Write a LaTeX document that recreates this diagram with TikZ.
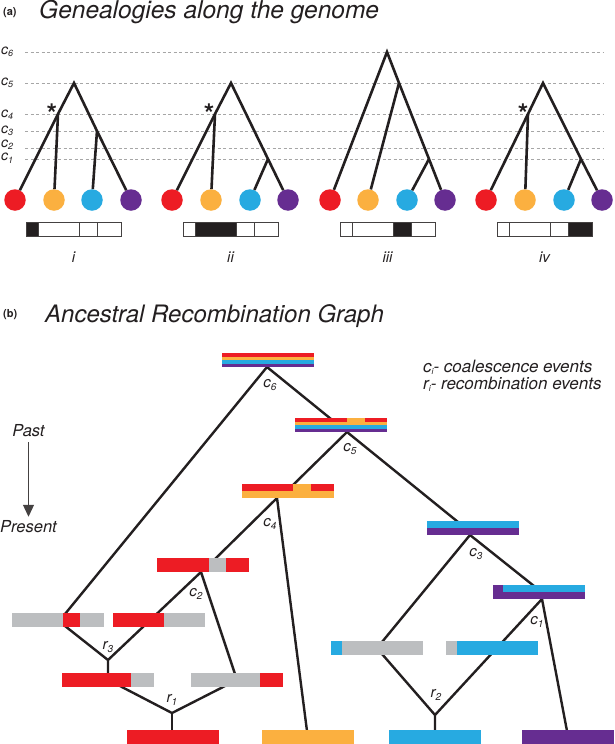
\documentclass[tikz,border=0pt]{standalone}
\usepackage{fontspec}
\setmainfont{TeX Gyre Heros}
\usetikzlibrary{arrows.meta}
\definecolor{cR}{HTML}{ED1C24}
\definecolor{cO}{HTML}{FBB040}
\definecolor{cB}{HTML}{27AAE1}
\definecolor{cP}{HTML}{662D91}
\definecolor{cG}{HTML}{BCBEC0}
\definecolor{ink}{HTML}{231F20}
\newcommand{\la}[2]{{\fontsize{14}{14}\selectfont\itshape #1}{\fontsize{9}{9}\selectfont\itshape\raisebox{-2.5pt}{#2}}}
\newcommand{\lb}[2]{{\fontsize{15}{15}\selectfont\itshape #1}{\fontsize{10}{10}\selectfont\itshape\raisebox{-3.5pt}{#2}}}
\begin{document}
\begin{tikzpicture}[x=1pt,y=-1pt,
  dashline/.style={draw=black!35, line width=0.7pt, dash pattern=on 3pt off 2.5pt},
  tree/.style={draw=ink, line width=2.6pt},
  leaf/.style={circle, minimum size=21.5pt, inner sep=0pt, draw=none},
  gbar/.style={draw=ink!85, line width=0.9pt},
  edge/.style={draw=ink, line width=2.4pt},
  txt/.style={inner sep=0pt, text=ink},
]
\fill[white] (0,0) rectangle (614,744);
\path[use as bounding box] (0,0) rectangle (614,744);

% ---------- (a) ----------
\node[txt, anchor=base west] (ta) at (3,16) {\fontsize{11}{11}\selectfont\bfseries (a)};
\node[txt, anchor=base west] (titlea) at (39,19) {\fontsize{24.5}{24.5}\selectfont\itshape Genealogies along the genome};

\foreach \y in {52,83,114,131,148,159} \draw[dashline] (25,\y) -- (603,\y);
\node[txt, anchor=base west] (lc6) at (1,54) {\la{c}{6}};
\node[txt, anchor=base west] (lc5) at (1,85) {\la{c}{5}};
\node[txt, anchor=base west] (lc4) at (1,117) {\la{c}{4}};
\node[txt, anchor=base west] (lc3) at (1,133) {\la{c}{3}};
\node[txt, anchor=base west] (lc2) at (1,147) {\la{c}{2}};
\node[txt, anchor=base west] (lc1) at (1,160.5) {\la{c}{1}};

% tree i
\node[leaf, fill=cR] (i1) at (15,200) {};
\node[leaf, fill=cO] (i2) at (54,200) {};
\node[leaf, fill=cB] (i3) at (92,200) {};
\node[leaf, fill=cP] (i4) at (131,200) {};
\coordinate (iR) at (74,83); \coordinate (iA) at (58,114); \coordinate (iB) at (97,131);
\draw[tree] (i1) -- (iA) -- (iR) -- (iB) -- (i4);
\draw[tree] (iA) -- (i2);
\draw[tree] (iB) -- (i3);
% tree ii
\node[leaf, fill=cR] (ii1) at (172,200) {};
\node[leaf, fill=cO] (ii2) at (211,200) {};
\node[leaf, fill=cB] (ii3) at (250,200) {};
\node[leaf, fill=cP] (ii4) at (288,200) {};
\coordinate (iiR) at (231,83); \coordinate (iiA) at (215,114); \coordinate (iiC) at (268,159);
\draw[tree] (ii1) -- (iiA) -- (iiR) -- (iiC) -- (ii4);
\draw[tree] (iiA) -- (ii2);
\draw[tree] (iiC) -- (ii3);
% tree iii
\node[leaf, fill=cR] (iii1) at (330,200) {};
\node[leaf, fill=cO] (iii2) at (368,200) {};
\node[leaf, fill=cB] (iii3) at (407,200) {};
\node[leaf, fill=cP] (iii4) at (445,200) {};
\coordinate (iiiR) at (387,52); \coordinate (iiiB) at (399,83); \coordinate (iiiC) at (429,159);
\draw[tree] (iii1) -- (iiiR) -- (iiiB) -- (iiiC) -- (iii4);
\draw[tree] (iiiB) -- (iii2);
\draw[tree] (iiiC) -- (iii3);
% tree iv
\node[leaf, fill=cR] (iv1) at (486,200) {};
\node[leaf, fill=cO] (iv2) at (525,200) {};
\node[leaf, fill=cB] (iv3) at (564,200) {};
\node[leaf, fill=cP] (iv4) at (602,200) {};
\coordinate (ivR) at (543,83); \coordinate (ivA) at (528,114); \coordinate (ivC) at (581,159);
\draw[tree] (iv1) -- (ivA) -- (ivR) -- (ivC) -- (iv4);
\draw[tree] (ivA) -- (iv2);
\draw[tree] (ivC) -- (iv3);

% stars
\node[txt, anchor=base] (st1) at (52,123) {\fontsize{27}{27}\selectfont\bfseries *};
\node[txt, anchor=base] (st2) at (209,123) {\fontsize{27}{27}\selectfont\bfseries *};
\node[txt, anchor=base] (st4) at (523,123) {\fontsize{27}{27}\selectfont\bfseries *};

% genome bars
\foreach \s/\a/\b/\lab in {26/26/38/i, 183/195/236/ii, 340/393/411/iii, 497/568/592/iv} {
  \fill[ink] (\a,222) rectangle (\b,236);
  \draw[gbar] (\s,222) rectangle ({\s+95},236);
  \draw[gbar] ({\s+12},222) -- ({\s+12},236);
  \draw[gbar] ({\s+53},222) -- ({\s+53},236);
  \draw[gbar] ({\s+71},222) -- ({\s+71},236);
  \node[txt, anchor=base] (g\lab) at ({\s+47.5},262) {\fontsize{15}{15}\selectfont\itshape \lab};
}

% ---------- (b) ----------
\node[txt, anchor=base west] (tb) at (3,317) {\fontsize{11}{11}\selectfont\bfseries (b)};
\node[txt, anchor=base west] (titleb) at (45,322) {\fontsize{24}{24}\selectfont\itshape Ancestral Recombination Graph};

\node[txt, anchor=base west] (leg1) at (423,372) {\fontsize{17}{17}\selectfont\itshape c\raisebox{-2pt}{\fontsize{8.5}{8.5}\selectfont i}- coalescence events};
\node[txt, anchor=base west] (leg2) at (423,389) {\fontsize{17}{17}\selectfont\itshape r\raisebox{-2pt}{\fontsize{8.5}{8.5}\selectfont i}- recombination events};

\node[txt, anchor=base] (past) at (28.5,436) {\fontsize{16.5}{16.5}\selectfont\itshape Past};
\node[txt, anchor=base] (present) at (28.5,532) {\fontsize{16.5}{16.5}\selectfont\itshape Present};
\draw[draw=ink!85, line width=1.1pt, -{Triangle[width=11pt,length=12pt]}, shorten <=6pt, shorten >=3pt] (past.south) -- (present.north);

% connectors
\coordinate (n6) at (267,367); \coordinate (t5) at (331,419); \coordinate (tL1) at (65,614);
\draw[edge] (tL1) -- (n6) -- (t5);
\coordinate (n5) at (347,432); \coordinate (t4) at (293,485); \coordinate (t3) at (458,522);
\draw[edge] (t4) -- (n5) -- (t3);
\coordinate (n4) at (277,498); \coordinate (t2) at (215,559); \coordinate (tO) at (307,731);
\draw[edge] (t2) -- (n4) -- (tO);
\coordinate (n3) at (470,535); \coordinate (tR1) at (382,642); \coordinate (t1) at (534,586);
\draw[edge] (tR1) -- (n3) -- (t1);
\coordinate (n2) at (201,572); \coordinate (r3) at (108,660); \coordinate (tM2) at (235,674);
\draw[edge] (r3) -- (n2) -- (tM2);
\coordinate (n1) at (542,599); \coordinate (r2) at (435,715); \coordinate (tP) at (567,731);
\draw[edge] (r2) -- (n1) -- (tP);
\coordinate (bL1) at (65,626); \coordinate (tM1) at (108,674);
\draw[edge] (bL1) -- (r3) -- (tM1);
\coordinate (bR1) at (382,654); \coordinate (tB) at (435,731);
\draw[edge] (bR1) -- (r2) -- (tB);
\coordinate (bM1) at (120,686); \coordinate (bM2) at (225,686); \coordinate (r1) at (172,713); \coordinate (tRd) at (172,731);
\draw[edge] (bM1) -- (r1) -- (bM2);
\draw[edge] (r1) -- (tRd);

% bars
% c6 rainbow
\fill[cR] (222,353) rectangle (314,356.5);
\fill[cO] (222,356.5) rectangle (314,360);
\fill[cB] (222,360) rectangle (314,363.5);
\fill[cP] (222,363.5) rectangle (314,367);
% c5
\fill[cR] (295,418) rectangle (387,421.5);
\fill[cO] (347,418) rectangle (365,421.5);
\fill[cO] (295,421.5) rectangle (387,425);
\fill[cB] (295,425) rectangle (387,428.5);
\fill[cP] (295,428.5) rectangle (387,432);
% c4
\fill[cO] (242,484) rectangle (334,498);
\fill[cR] (242,484) rectangle (293,491);
\fill[cR] (311,484) rectangle (334,491);
% c3
\fill[cB] (427,521) rectangle (519,528);
\fill[cP] (427,528) rectangle (519,535);
% c2
\fill[cR] (157,558) rectangle (249,572);
\fill[cG] (209,558) rectangle (226,572);
% c1
\fill[cP] (493,585) rectangle (585,599);
\fill[cB] (503,585) rectangle (585,592);
% L1, L2
\fill[cG] (12,613) rectangle (104,627);
\fill[cR] (63,613) rectangle (80,627);
\fill[cR] (113,613) rectangle (205,627);
\fill[cG] (164,613) rectangle (205,627);
% R1, R2
\fill[cG] (331,641) rectangle (423,655);
\fill[cB] (331,641) rectangle (342,655);
\fill[cB] (446,641) rectangle (538,655);
\fill[cG] (446,641) rectangle (457,655);
% M1, M2
\fill[cR] (62,673) rectangle (154,687);
\fill[cG] (131,673) rectangle (154,687);
\fill[cG] (191,673) rectangle (283,687);
\fill[cR] (260,673) rectangle (283,687);
% leaves
\fill[cR] (127,730) rectangle (219,744);
\fill[cO] (262,730) rectangle (354,744);
\fill[cB] (389,730) rectangle (481,744);
\fill[cP] (522,730) rectangle (614,744);

% event labels
\node[txt] (bc6) at (270,385) {\lb{c}{6}};
\node[txt] (bc5) at (350,449) {\lb{c}{5}};
\node[txt] (bc4) at (270,524) {\lb{c}{4}};
\node[txt] (bc3) at (476,554) {\lb{c}{3}};
\node[txt] (bc2) at (196,594) {\lb{c}{2}};
\node[txt] (bc1) at (537,622) {\lb{c}{1}};
\node[txt] (br3) at (108,647) {\lb{r}{3}};
\node[txt] (br1) at (172,700) {\lb{r}{1}};
\node[txt] (br2) at (436,695) {\lb{r}{2}};
\end{tikzpicture}
\end{document}
